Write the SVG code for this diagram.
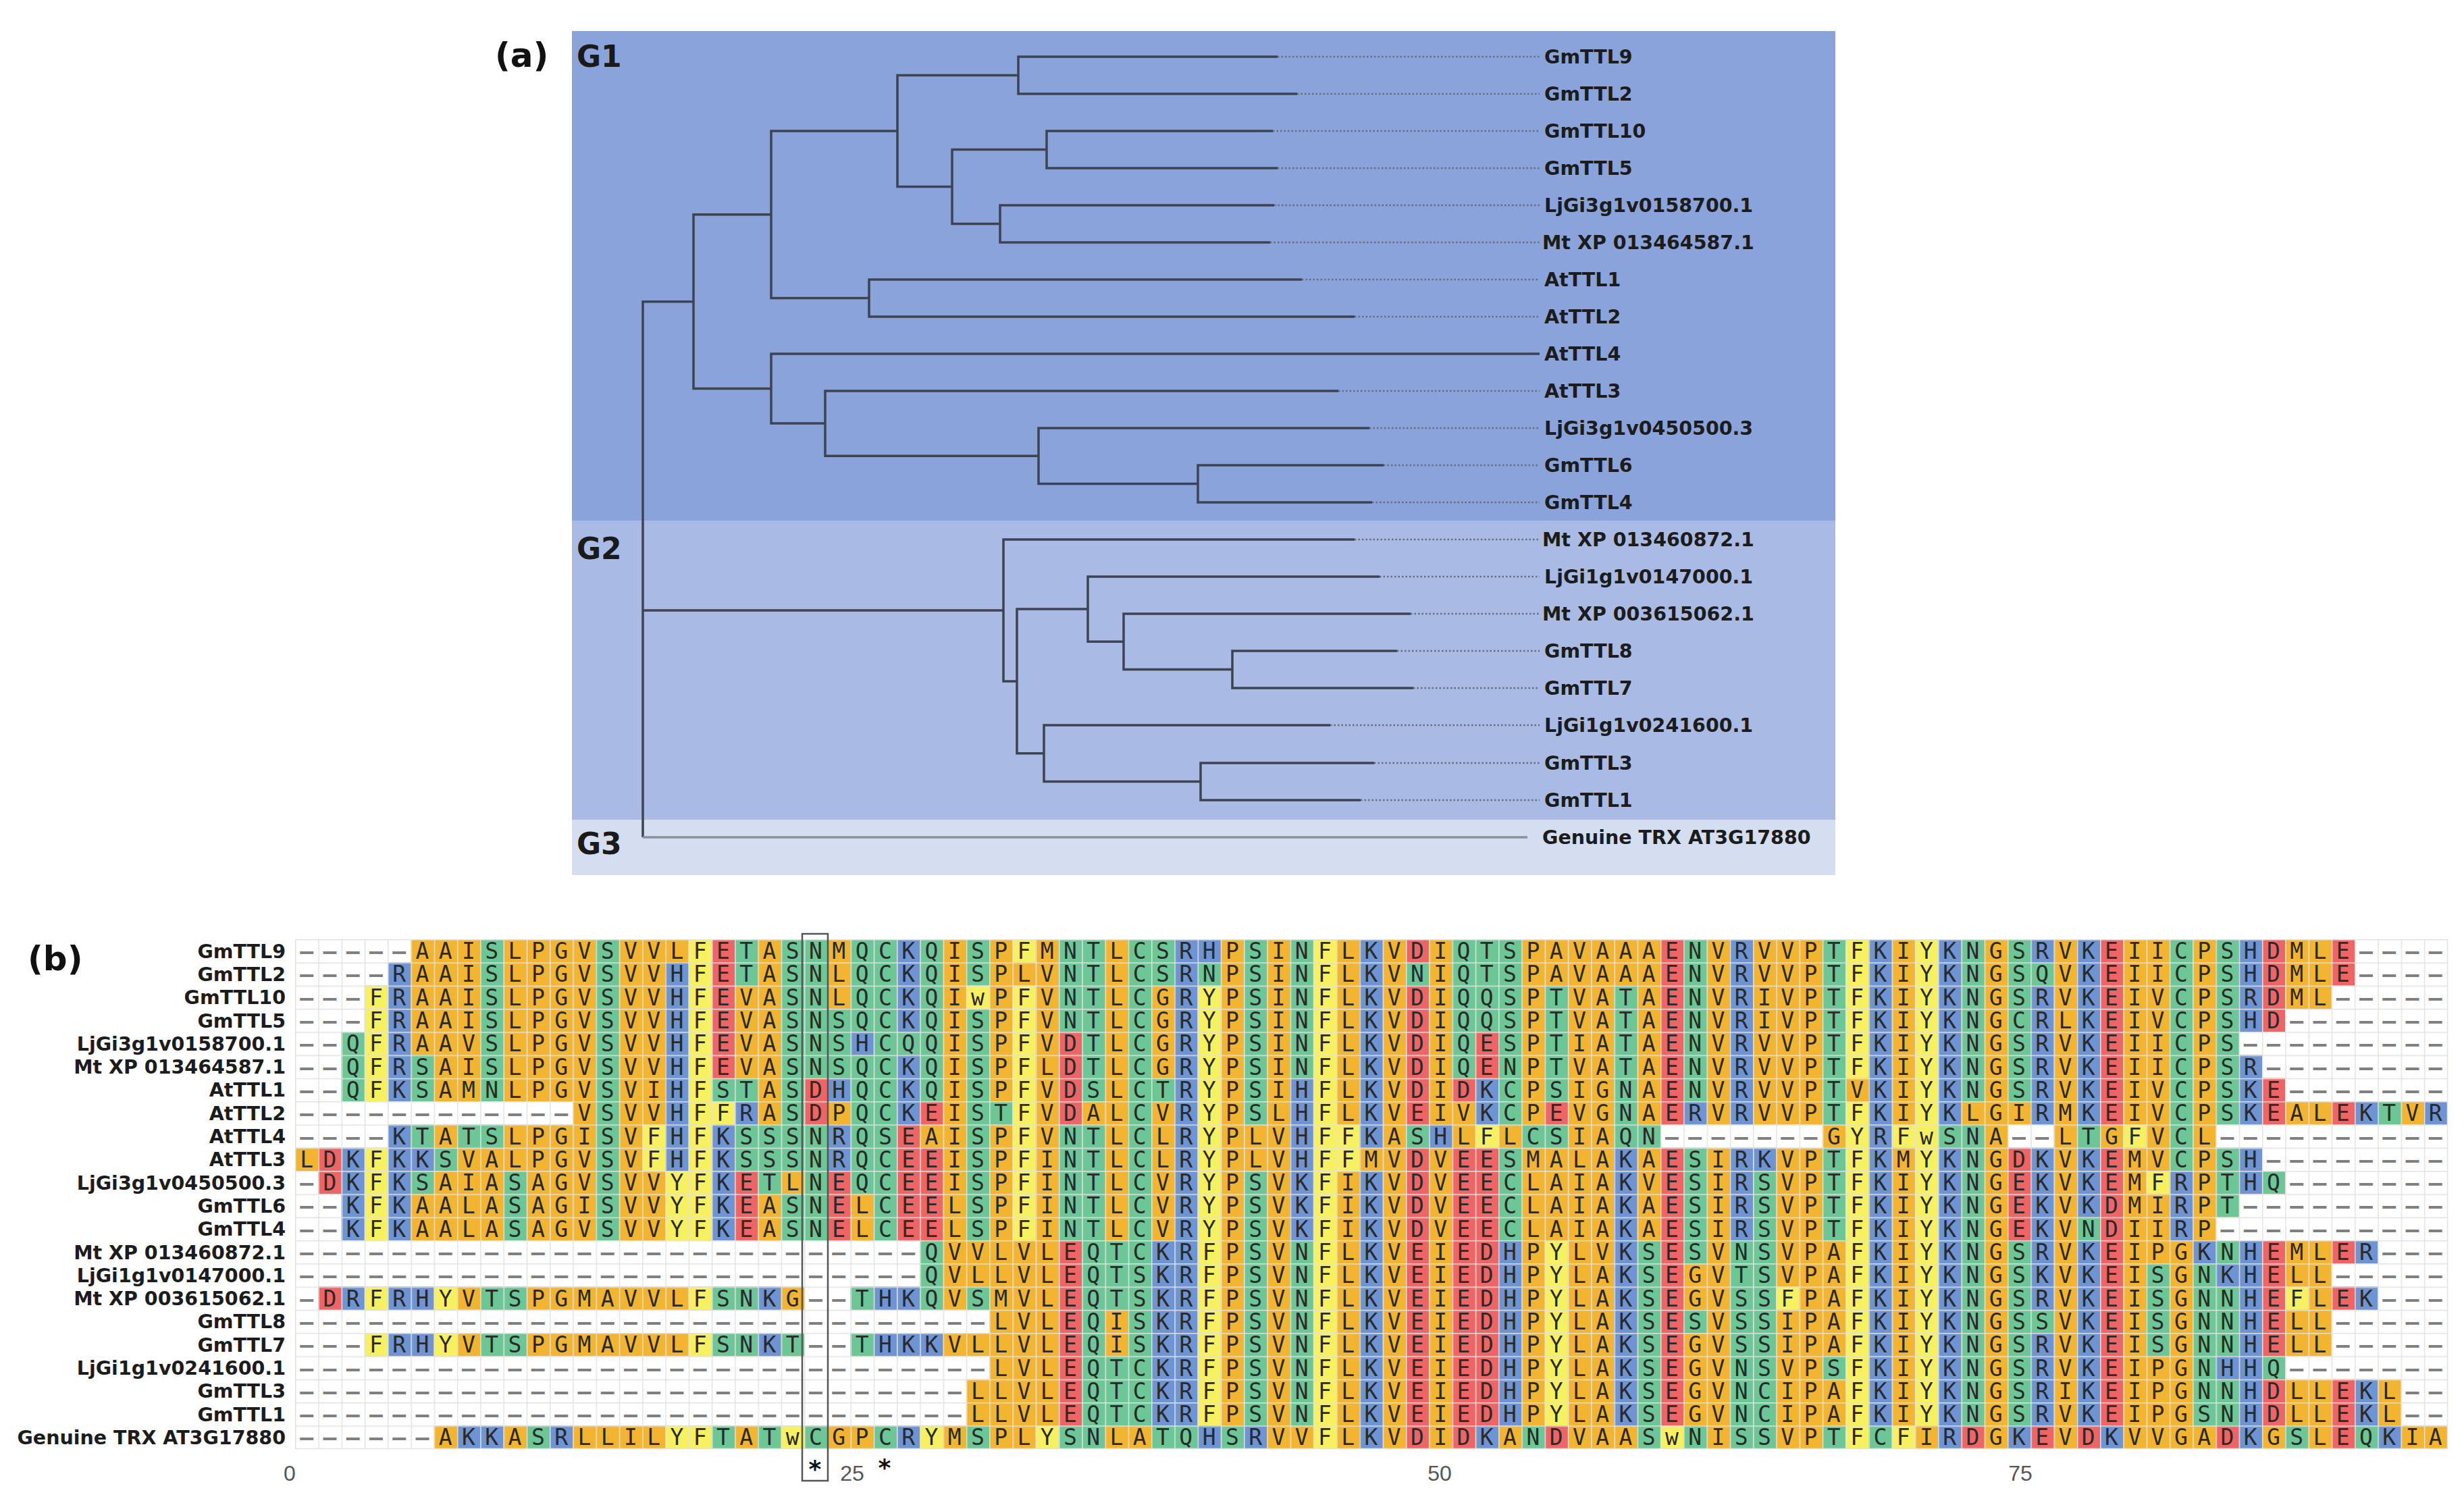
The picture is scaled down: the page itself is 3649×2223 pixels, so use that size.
<svg xmlns="http://www.w3.org/2000/svg" width="3649" height="2223" viewBox="0 0 3649 2223">
<style>
.t{font-family:"DejaVu Sans","Liberation Sans",sans-serif;font-weight:bold;font-size:28.5px;fill:#1c1c1c}
.e{text-anchor:end}
.big{font-family:"DejaVu Sans","Liberation Sans",sans-serif;font-weight:bold;font-size:50px;fill:#111}
.grp{font-family:"DejaVu Sans","Liberation Sans",sans-serif;font-weight:bold;font-size:44px;fill:#1a1a1a}
.s{font-family:"DejaVu Sans Mono","Liberation Mono",monospace;font-size:33px;letter-spacing:14.4px;fill:#2a2a2a}
.d{fill:#808080;font-weight:bold}
.ax{font-family:"Liberation Sans",sans-serif;font-size:32px;fill:#555;text-anchor:middle}
.br{fill:none;stroke:#3e4353;stroke-width:3.5}
.dot{fill:none;stroke:#666d7d;stroke-width:2.5;stroke-dasharray:2.5 3}
.ast{font-family:"DejaVu Sans",sans-serif;font-weight:bold;font-size:36px;fill:#111;text-anchor:middle}
</style>
<defs>
<pattern id="grid" x="437" y="1391" width="34.27" height="34.3" patternUnits="userSpaceOnUse">
<path d="M0 0.75H34.27M0.75 0V34.3" stroke="#e2e2e2" stroke-width="1.5" fill="none"/>
</pattern>
</defs>
<rect width="3649" height="2223" fill="#fff"/>

<g id="panel-a">
<text class="big" x="733" y="99">(a)</text>
<rect x="847" y="46" width="1871" height="725" fill="#8BA3DB"/>
<rect x="847" y="771" width="1871" height="443" fill="#A9BBE4"/>
<rect x="847" y="1214" width="1871" height="82" fill="#D5DDF1"/>
<text class="grp" x="854" y="99">G1</text>
<text class="grp" x="854" y="828">G2</text>
<text class="grp" x="854" y="1265">G3</text>
<g id="connectors">
<path class="dot" d="M1892 84H2280M1921 139H2280M1885 194H2280M1892 249H2280M1887 304H2280M1881 359H2280M1928 414H2280M2006 469H2280M1982 579H2280M2028 634H2280M2049 689H2280M2032 744H2280M2006 799H2280M2043 854H2280M2089 909H2280M2069 964H2280M2093 1019H2280M1970 1074H2280M2035 1130H2280M2015 1185H2280"/>
<path class="br" d="M1892 84H1508V139H1921M1885 194H1550V249H1892M1887 304H1481V359H1881M1550 221.5H1410V331.5H1481M1508 111.5H1329V276.5H1410M1928 414H1287V469H2006M1329 194H1142V441.5H1287M2049 689H1774V744H2032M2028 634H1538V716.5H1774M1982 579H1222V675.3H1538M2280 524H1142V627.1H1222M1142 317.8H1027V575.6H1142M1027 446.7H952V1240M952 904H1486M2069 964H1825V1019H2093M2089 909H1664V991.5H1825M2043 854H1611V950.3H1664M2035 1130H1778V1185H2015M1970 1074H1546V1157.5H1778M1611 902.1H1506V1115.8H1546M2006 799H1486V1008.9H1506"/>
<path d="M952 1240H2262" fill="none" stroke="#8a909e" stroke-width="3.5"/>
</g>
<g id="leaf-GmTTL9"><text class="t" x="2287" y="94.4">GmTTL9</text></g>
<g id="leaf-GmTTL2"><text class="t" x="2287" y="149.4">GmTTL2</text></g>
<g id="leaf-GmTTL10"><text class="t" x="2287" y="204.4">GmTTL10</text></g>
<g id="leaf-GmTTL5"><text class="t" x="2287" y="259.4">GmTTL5</text></g>
<g id="leaf-LjGi3g1v0158700"><text class="t" x="2287" y="314.4">LjGi3g1v0158700.1</text></g>
<g id="leaf-Mt013464587"><text class="t" x="2284" y="369.4">Mt XP 013464587.1</text></g>
<g id="leaf-AtTTL1"><text class="t" x="2287" y="424.4">AtTTL1</text></g>
<g id="leaf-AtTTL2"><text class="t" x="2287" y="479.4">AtTTL2</text></g>
<g id="leaf-AtTTL4"><text class="t" x="2287" y="534.4">AtTTL4</text></g>
<g id="leaf-AtTTL3"><text class="t" x="2287" y="589.4">AtTTL3</text></g>
<g id="leaf-LjGi3g1v0450500"><text class="t" x="2287" y="644.4">LjGi3g1v0450500.3</text></g>
<g id="leaf-GmTTL6"><text class="t" x="2287" y="699.4">GmTTL6</text></g>
<g id="leaf-GmTTL4"><text class="t" x="2287" y="754.4">GmTTL4</text></g>
<g id="leaf-Mt013460872"><text class="t" x="2284" y="809.4">Mt XP 013460872.1</text></g>
<g id="leaf-LjGi1g1v0147000"><text class="t" x="2287" y="864.4">LjGi1g1v0147000.1</text></g>
<g id="leaf-Mt003615062"><text class="t" x="2284" y="919.4">Mt XP 003615062.1</text></g>
<g id="leaf-GmTTL8"><text class="t" x="2287" y="974.4">GmTTL8</text></g>
<g id="leaf-GmTTL7"><text class="t" x="2287" y="1029.4">GmTTL7</text></g>
<g id="leaf-LjGi1g1v0241600"><text class="t" x="2287" y="1084.4">LjGi1g1v0241600.1</text></g>
<g id="leaf-GmTTL3"><text class="t" x="2287" y="1140.4">GmTTL3</text></g>
<g id="leaf-GmTTL1"><text class="t" x="2287" y="1195.4">GmTTL1</text></g>
<g id="leaf-TRX"><text class="t" x="2284" y="1250.4">Genuine TRX AT3G17880</text></g>
</g>

<g id="panel-b">
<text class="big" x="41" y="1437">(b)</text>
<g id="names">
<text class="t e" x="423" y="1418.6">GmTTL9</text>
<text class="t e" x="423" y="1452.9">GmTTL2</text>
<text class="t e" x="423" y="1487.2">GmTTL10</text>
<text class="t e" x="423" y="1521.5">GmTTL5</text>
<text class="t e" x="423" y="1555.8">LjGi3g1v0158700.1</text>
<text class="t e" x="423" y="1590.1">Mt XP 013464587.1</text>
<text class="t e" x="423" y="1624.4">AtTTL1</text>
<text class="t e" x="423" y="1658.7">AtTTL2</text>
<text class="t e" x="423" y="1693">AtTTL4</text>
<text class="t e" x="423" y="1727.3">AtTTL3</text>
<text class="t e" x="423" y="1761.6">LjGi3g1v0450500.3</text>
<text class="t e" x="423" y="1795.9">GmTTL6</text>
<text class="t e" x="423" y="1830.2">GmTTL4</text>
<text class="t e" x="423" y="1864.5">Mt XP 013460872.1</text>
<text class="t e" x="423" y="1898.8">LjGi1g1v0147000.1</text>
<text class="t e" x="423" y="1933.1">Mt XP 003615062.1</text>
<text class="t e" x="423" y="1967.4">GmTTL8</text>
<text class="t e" x="423" y="2001.7">GmTTL7</text>
<text class="t e" x="423" y="2036">LjGi1g1v0241600.1</text>
<text class="t e" x="423" y="2070.3">GmTTL3</text>
<text class="t e" x="423" y="2104.6">GmTTL1</text>
<text class="t e" x="423" y="2138.9">Genuine TRX AT3G17880</text>
</g>
<g id="cells" transform="translate(437 1391) scale(34.27 34.3)">
<rect width="93" height="22" fill="#F2B431"/>
<g fill="none" stroke-width="1">
<path stroke="#ffffff" d="M0 .5h5M89 .5h4M0 1.5h4M89 1.5h4M0 2.5h3M88 2.5h5M0 3.5h3M86 3.5h7M0 4.5h2M84 4.5h9M0 5.5h2M85 5.5h8M0 6.5h2M86 6.5h7M0 7.5h12M0 8.5h4M59 8.5h7M74 8.5h2M83 8.5h10M85 9.5h8M0 10.5h1M86 10.5h7M0 11.5h2M84 11.5h9M0 12.5h2M83 12.5h10M0 13.5h27M90 13.5h3M0 14.5h27M88 14.5h5M0 15.5h1M22 15.5h2M90 15.5h3M0 16.5h30M88 16.5h5M0 17.5h3M22 17.5h2M88 17.5h5M0 18.5h30M86 18.5h7M0 19.5h29M91 19.5h2M0 20.5h29M91 20.5h2M0 21.5h6"/>
<path stroke="#6CC695" d="M8 .5h1M13 .5h1M19 .5h1M21 .5h2M24 .5h2M27 .5h1M29 .5h1M33 .5h2M36 .5h2M41 .5h1M43 .5h1M50 .5h3M60 .5h1M66 .5h1M72 .5h1M74 .5h1M81 .5h1M83 .5h1
M8 1.5h1M13 1.5h1M19 1.5h1M21 1.5h2M24 1.5h2M27 1.5h1M29 1.5h1M33 1.5h2M36 1.5h2M39 1.5h1M41 1.5h1M43 1.5h1M48 1.5h1M50 1.5h3M60 1.5h1M66 1.5h1M72 1.5h1M74 1.5h2M81 1.5h1M83 1.5h1
M8 2.5h1M13 2.5h1M21 2.5h2M24 2.5h2M27 2.5h1M33 2.5h2M36 2.5h1M41 2.5h1M43 2.5h1M50 2.5h3M54 2.5h1M57 2.5h1M60 2.5h1M66 2.5h1M72 2.5h1M74 2.5h1M81 2.5h1M83 2.5h1
M8 3.5h1M13 3.5h1M21 3.5h5M27 3.5h1M29 3.5h1M33 3.5h2M36 3.5h1M41 3.5h1M43 3.5h1M50 3.5h3M54 3.5h1M57 3.5h1M60 3.5h1M66 3.5h1M72 3.5h1M74 3.5h1M81 3.5h1M83 3.5h1
M2 4.5h1M8 4.5h1M13 4.5h1M21 4.5h3M25 4.5h3M29 4.5h1M34 4.5h1M36 4.5h1M41 4.5h1M43 4.5h1M50 4.5h1M52 4.5h1M54 4.5h1M57 4.5h1M60 4.5h1M66 4.5h1M72 4.5h1M74 4.5h1M81 4.5h1M83 4.5h1
M2 5.5h1M5 5.5h1M8 5.5h1M13 5.5h1M21 5.5h5M27 5.5h1M29 5.5h1M34 5.5h1M36 5.5h1M41 5.5h1M43 5.5h1M50 5.5h1M52 5.5h1M54 5.5h1M57 5.5h1M60 5.5h1M66 5.5h1M72 5.5h1M74 5.5h1M81 5.5h1M83 5.5h1
M2 6.5h1M5 6.5h1M8 6.5h1M13 6.5h1M18 6.5h2M21 6.5h1M24 6.5h2M27 6.5h1M29 6.5h1M34 6.5h1M36 6.5h2M41 6.5h1M52 6.5h1M54 6.5h1M57 6.5h1M60 6.5h1M66 6.5h1M72 6.5h1M74 6.5h1M81 6.5h1M83 6.5h1
M13 7.5h1M21 7.5h1M24 7.5h2M29 7.5h2M36 7.5h1M41 7.5h1M52 7.5h1M57 7.5h1M66 7.5h1M81 7.5h1M83 7.5h1M90 7.5h1
M5 8.5h1M7 8.5h2M13 8.5h1M19 8.5h4M24 8.5h2M29 8.5h1M33 8.5h2M36 8.5h1M48 8.5h1M53 8.5h2M57 8.5h2M71 8.5h2M77 8.5h1M81 8.5h1
M6 9.5h1M13 9.5h1M19 9.5h4M24 9.5h2M29 9.5h1M33 9.5h2M36 9.5h1M52 9.5h1M60 9.5h1M66 9.5h1M72 9.5h1M81 9.5h1M83 9.5h1
M5 10.5h1M9 10.5h1M13 10.5h1M20 10.5h1M22 10.5h1M24 10.5h2M29 10.5h1M33 10.5h2M36 10.5h1M41 10.5h1M52 10.5h1M60 10.5h1M63 10.5h1M66 10.5h1M72 10.5h1M83 10.5h1M85 10.5h1
M9 11.5h1M13 11.5h1M21 11.5h2M25 11.5h1M29 11.5h1M33 11.5h2M36 11.5h1M41 11.5h1M52 11.5h1M60 11.5h1M63 11.5h1M66 11.5h1M72 11.5h1M83 11.5h1
M9 12.5h1M13 12.5h1M21 12.5h2M25 12.5h1M29 12.5h1M33 12.5h2M36 12.5h1M41 12.5h1M52 12.5h1M60 12.5h1M63 12.5h1M66 12.5h1M72 12.5h1M77 12.5h1
M27 13.5h1M34 13.5h3M41 13.5h1M43 13.5h1M58 13.5h1M60 13.5h1M62 13.5h2M72 13.5h1M74 13.5h1M83 13.5h1
M27 14.5h1M34 14.5h3M41 14.5h1M43 14.5h1M58 14.5h1M62 14.5h2M72 14.5h1M74 14.5h1M80 14.5h1M82 14.5h1
M8 15.5h2M18 15.5h2M24 15.5h1M27 15.5h1M29 15.5h1M34 15.5h3M41 15.5h1M43 15.5h1M58 15.5h1M62 15.5h2M72 15.5h1M74 15.5h1M80 15.5h1M82 15.5h2
M34 16.5h1M36 16.5h1M41 16.5h1M43 16.5h1M58 16.5h1M60 16.5h1M62 16.5h2M72 16.5h1M74 16.5h2M80 16.5h1M82 16.5h2
M8 17.5h2M18 17.5h2M21 17.5h1M24 17.5h1M34 17.5h1M36 17.5h1M41 17.5h1M43 17.5h1M58 17.5h1M62 17.5h2M72 17.5h1M74 17.5h1M80 17.5h1M82 17.5h2
M34 18.5h3M41 18.5h1M43 18.5h1M58 18.5h1M62 18.5h2M66 18.5h1M72 18.5h1M74 18.5h1M82 18.5h1M85 18.5h1
M34 19.5h3M41 19.5h1M43 19.5h1M58 19.5h1M62 19.5h2M72 19.5h1M74 19.5h1M82 19.5h2
M34 20.5h3M41 20.5h1M43 20.5h1M58 20.5h1M62 20.5h2M72 20.5h1M74 20.5h1M82 20.5h2
M10 21.5h1M18 21.5h1M20 21.5h1M22 21.5h1M25 21.5h1M29 21.5h1M33 21.5h2M37 21.5h2M40 21.5h1M53 21.5h1M58 21.5h1M60 21.5h1M62 21.5h2M66 21.5h1M68 21.5h1M86 21.5h1M89 21.5h1"/>
<path stroke="#6E94D3" d="M26 .5h1M38 .5h2M46 .5h1M62 .5h1M68 .5h1M71 .5h1M75 .5h1M77 .5h1M84 .5h1
M4 1.5h1M16 1.5h1M26 1.5h1M38 1.5h1M46 1.5h1M62 1.5h1M68 1.5h1M71 1.5h1M77 1.5h1M84 1.5h1
M4 2.5h1M16 2.5h1M26 2.5h1M38 2.5h1M46 2.5h1M62 2.5h1M68 2.5h1M71 2.5h1M75 2.5h1M77 2.5h1M84 2.5h1
M4 3.5h1M16 3.5h1M26 3.5h1M38 3.5h1M46 3.5h1M62 3.5h1M68 3.5h1M71 3.5h1M75 3.5h1M77 3.5h1M84 3.5h1
M4 4.5h1M16 4.5h1M24 4.5h1M38 4.5h1M46 4.5h1M62 4.5h1M68 4.5h1M71 4.5h1M75 4.5h1M77 4.5h1
M4 5.5h1M16 5.5h1M26 5.5h1M38 5.5h1M46 5.5h1M62 5.5h1M68 5.5h1M71 5.5h1M75 5.5h1M77 5.5h1M84 5.5h1
M4 6.5h1M16 6.5h1M23 6.5h1M26 6.5h1M38 6.5h1M43 6.5h1M46 6.5h1M51 6.5h1M62 6.5h1M68 6.5h1M71 6.5h1M75 6.5h1M77 6.5h1M84 6.5h1
M16 7.5h1M19 7.5h1M26 7.5h1M38 7.5h1M43 7.5h1M46 7.5h1M51 7.5h1M60 7.5h1M62 7.5h1M68 7.5h1M71 7.5h1M75 7.5h1M77 7.5h1M84 7.5h1M89 7.5h1M92 7.5h1
M4 8.5h1M16 8.5h1M18 8.5h1M23 8.5h1M38 8.5h1M43 8.5h1M46 8.5h1M49 8.5h1M68 8.5h1
M2 9.5h1M4 9.5h2M16 9.5h1M18 9.5h1M23 9.5h1M38 9.5h1M43 9.5h1M57 9.5h1M62 9.5h2M68 9.5h1M71 9.5h1M75 9.5h1M77 9.5h1M84 9.5h1
M2 10.5h1M4 10.5h1M18 10.5h1M38 10.5h1M43 10.5h1M46 10.5h1M57 10.5h1M62 10.5h1M68 10.5h1M71 10.5h1M75 10.5h1M77 10.5h1M81 10.5h1M84 10.5h1
M2 11.5h1M4 11.5h1M18 11.5h1M38 11.5h1M43 11.5h1M46 11.5h1M57 11.5h1M62 11.5h1M68 11.5h1M71 11.5h1M75 11.5h1M77 11.5h1M81 11.5h1
M2 12.5h1M4 12.5h1M18 12.5h1M38 12.5h1M43 12.5h1M46 12.5h1M57 12.5h1M62 12.5h1M68 12.5h1M71 12.5h1M75 12.5h1M81 12.5h1
M37 13.5h2M46 13.5h1M52 13.5h1M57 13.5h1M68 13.5h1M71 13.5h1M75 13.5h1M77 13.5h1M82 13.5h1M84 13.5h1M89 13.5h1
M37 14.5h2M46 14.5h1M52 14.5h1M57 14.5h1M68 14.5h1M71 14.5h1M75 14.5h1M77 14.5h1M83 14.5h2
M2 15.5h1M4 15.5h2M20 15.5h1M25 15.5h2M37 15.5h2M46 15.5h1M52 15.5h1M57 15.5h1M68 15.5h1M71 15.5h1M75 15.5h1M77 15.5h1M84 15.5h1M89 15.5h1
M37 16.5h2M46 16.5h1M52 16.5h1M57 16.5h1M68 16.5h1M71 16.5h1M77 16.5h1M84 16.5h1
M4 17.5h2M20 17.5h1M25 17.5h3M37 17.5h2M46 17.5h1M52 17.5h1M57 17.5h1M68 17.5h1M71 17.5h1M75 17.5h1M77 17.5h1M84 17.5h1
M37 18.5h2M46 18.5h1M52 18.5h1M57 18.5h1M68 18.5h1M71 18.5h1M75 18.5h1M77 18.5h1M83 18.5h2
M37 19.5h2M46 19.5h1M52 19.5h1M57 19.5h1M68 19.5h1M71 19.5h1M75 19.5h1M77 19.5h1M84 19.5h1M89 19.5h1
M37 20.5h2M46 20.5h1M52 20.5h1M57 20.5h1M68 20.5h1M71 20.5h1M75 20.5h1M77 20.5h1M84 20.5h1M89 20.5h1
M7 21.5h2M11 21.5h1M26 21.5h1M39 21.5h1M41 21.5h1M46 21.5h1M51 21.5h1M71 21.5h1M74 21.5h1M78 21.5h1M84 21.5h1M90 21.5h1"/>
<path stroke="#EF6565" d="M18 .5h1M48 .5h1M59 .5h1M78 .5h1M85 .5h1M88 .5h1
M18 1.5h1M59 1.5h1M78 1.5h1M85 1.5h1M88 1.5h1
M18 2.5h1M48 2.5h1M59 2.5h1M78 2.5h1M85 2.5h1
M18 3.5h1M48 3.5h1M59 3.5h1M78 3.5h1M85 3.5h1
M18 4.5h1M33 4.5h1M48 4.5h1M51 4.5h1M59 4.5h1M78 4.5h1
M18 5.5h1M33 5.5h1M48 5.5h1M51 5.5h1M59 5.5h1M78 5.5h1
M22 6.5h1M33 6.5h1M48 6.5h1M50 6.5h1M59 6.5h1M78 6.5h1M85 6.5h1
M22 7.5h1M27 7.5h1M33 7.5h1M48 7.5h1M54 7.5h1M59 7.5h1M78 7.5h1M85 7.5h1M88 7.5h1
M26 8.5h1
M1 9.5h1M26 9.5h2M48 9.5h1M50 9.5h2M59 9.5h1M74 9.5h1M78 9.5h1
M1 10.5h1M19 10.5h1M23 10.5h1M26 10.5h2M48 10.5h1M50 10.5h2M59 10.5h1M74 10.5h1M78 10.5h1
M19 11.5h1M23 11.5h1M26 11.5h2M48 11.5h1M50 11.5h2M59 11.5h1M74 11.5h1M78 11.5h1
M19 12.5h1M23 12.5h1M26 12.5h2M48 12.5h1M50 12.5h2M59 12.5h1M74 12.5h1M78 12.5h1
M33 13.5h1M48 13.5h1M50 13.5h2M59 13.5h1M78 13.5h1M85 13.5h1M88 13.5h1
M33 14.5h1M48 14.5h1M50 14.5h2M59 14.5h1M78 14.5h1M85 14.5h1
M1 15.5h1M33 15.5h1M48 15.5h1M50 15.5h2M59 15.5h1M78 15.5h1M85 15.5h1M88 15.5h1
M33 16.5h1M48 16.5h1M50 16.5h2M59 16.5h1M78 16.5h1M85 16.5h1
M33 17.5h1M48 17.5h1M50 17.5h2M59 17.5h1M78 17.5h1M85 17.5h1
M33 18.5h1M48 18.5h1M50 18.5h2M59 18.5h1M78 18.5h1
M33 19.5h1M48 19.5h1M50 19.5h2M59 19.5h1M78 19.5h1M85 19.5h1M88 19.5h1
M33 20.5h1M48 20.5h1M50 20.5h2M59 20.5h1M78 20.5h1M85 20.5h1M88 20.5h1
M48 21.5h1M50 21.5h1M54 21.5h1M72 21.5h1M75 21.5h1M77 21.5h1M83 21.5h1M88 21.5h1"/>
<path stroke="#F7F060" d="M17 .5h1M31 .5h1M44 .5h1M67 .5h1M70 .5h1
M17 1.5h1M44 1.5h1M67 1.5h1M70 1.5h1
M3 2.5h1M17 2.5h1M29 2.5h1M31 2.5h1M39 2.5h1M44 2.5h1M67 2.5h1M70 2.5h1
M3 3.5h1M17 3.5h1M31 3.5h1M39 3.5h1M44 3.5h1M67 3.5h1M70 3.5h1
M3 4.5h1M17 4.5h1M31 4.5h1M39 4.5h1M44 4.5h1M67 4.5h1M70 4.5h1
M3 5.5h1M17 5.5h1M31 5.5h1M39 5.5h1M44 5.5h1M67 5.5h1M70 5.5h1
M3 6.5h1M17 6.5h1M31 6.5h1M39 6.5h1M44 6.5h1M70 6.5h1
M17 7.5h2M31 7.5h1M39 7.5h1M44 7.5h1M67 7.5h1M70 7.5h1
M15 8.5h1M17 8.5h1M31 8.5h1M39 8.5h1M44 8.5h2M51 8.5h1M67 8.5h1M69 8.5h2M79 8.5h1
M3 9.5h1M15 9.5h1M17 9.5h1M31 9.5h1M39 9.5h1M44 9.5h2M67 9.5h1M70 9.5h1
M3 10.5h1M16 10.5h2M31 10.5h1M39 10.5h1M44 10.5h1M67 10.5h1M70 10.5h1M80 10.5h1
M3 11.5h1M16 11.5h2M31 11.5h1M39 11.5h1M44 11.5h1M67 11.5h1M70 11.5h1
M3 12.5h1M16 12.5h2M31 12.5h1M39 12.5h1M44 12.5h1M67 12.5h1M70 12.5h1
M39 13.5h1M44 13.5h1M54 13.5h1M67 13.5h1M70 13.5h1
M39 14.5h1M44 14.5h1M54 14.5h1M67 14.5h1M70 14.5h1
M3 15.5h1M6 15.5h1M17 15.5h1M39 15.5h1M44 15.5h1M54 15.5h1M64 15.5h1M67 15.5h1M70 15.5h1M86 15.5h1
M39 16.5h1M44 16.5h1M54 16.5h1M67 16.5h1M70 16.5h1
M3 17.5h1M6 17.5h1M17 17.5h1M39 17.5h1M44 17.5h1M54 17.5h1M67 17.5h1M70 17.5h1
M39 18.5h1M44 18.5h1M54 18.5h1M67 18.5h1M70 18.5h1
M39 19.5h1M44 19.5h1M54 19.5h1M67 19.5h1M70 19.5h1
M39 20.5h1M44 20.5h1M54 20.5h1M67 20.5h1M70 20.5h1
M16 21.5h2M21 21.5h1M27 21.5h1M32 21.5h1M44 21.5h1M59 21.5h1M67 21.5h1M69 21.5h1"/>
</g>
</g>
<rect x="437" y="1391" width="3188" height="755" fill="url(#grid)"/>
<path d="M3624.5 1391V2146M437 2145.5H3625" stroke="#e2e2e2" stroke-width="1.5" fill="none"/>
<g id="sequences" class="s" transform="translate(-0.6 0.7)">
<text x="444.8" y="1419.5"><tspan class="d">–––––</tspan>AAISLPGVSVVLFETASNMQCKQISPFMNTLCSRHPSINFLKVDIQTSPAVAAAENVRVVPTFKIYKNGSRVKEIICPSHDMLE<tspan class="d">––––</tspan></text>
<text x="444.8" y="1453.8"><tspan class="d">––––</tspan>RAAISLPGVSVVHFETASNLQCKQISPLVNTLCSRNPSINFLKVNIQTSPAVAAAENVRVVPTFKIYKNGSQVKEIICPSHDMLE<tspan class="d">––––</tspan></text>
<text x="444.8" y="1488.1"><tspan class="d">–––</tspan>FRAAISLPGVSVVHFEVASNLQCKQIwPFVNTLCGRYPSINFLKVDIQQSPTVATAENVRIVPTFKIYKNGSRVKEIVCPSRDML<tspan class="d">–––––</tspan></text>
<text x="444.8" y="1522.4"><tspan class="d">–––</tspan>FRAAISLPGVSVVHFEVASNSQCKQISPFVNTLCGRYPSINFLKVDIQQSPTVATAENVRIVPTFKIYKNGCRLKEIVCPSHD<tspan class="d">–––––––</tspan></text>
<text x="444.8" y="1556.7"><tspan class="d">––</tspan>QFRAAVSLPGVSVVHFEVASNSHCQQISPFVDTLCGRYPSINFLKVDIQESPTIATAENVRVVPTFKIYKNGSRVKEIICPS<tspan class="d">–––––––––</tspan></text>
<text x="444.8" y="1591"><tspan class="d">––</tspan>QFRSAISLPGVSVVHFEVASNSQCKQISPFLDTLCGRYPSINFLKVDIQENPTVATAENVRVVPTFKIYKNGSRVKEIICPSR<tspan class="d">––––––––</tspan></text>
<text x="444.8" y="1625.3"><tspan class="d">––</tspan>QFKSAMNLPGVSVIHFSTASDHQCKQISPFVDSLCTRYPSIHFLKVDIDKCPSIGNAENVRVVPTVKIYKNGSRVKEIVCPSKE<tspan class="d">–––––––</tspan></text>
<text x="444.8" y="1659.6"><tspan class="d">––––––––––––</tspan>VSVVHFFRASDPQCKEISTFVDALCVRYPSLHFLKVEIVKCPEVGNAERVRVVPTFKIYKLGIRMKEIVCPSKEALEKTVR</text>
<text x="444.8" y="1693.9"><tspan class="d">––––</tspan>KTATSLPGISVFHFKSSSNRQSEAISPFVNTLCLRYPLVHFFKASHLFLCSIAQN<tspan class="d">–––––––</tspan>GYRFwSNA<tspan class="d">––</tspan>LTGFVCL<tspan class="d">––––––––––</tspan></text>
<text x="444.8" y="1728.2">LDKFKKSVALPGVSVFHFKSSSNRQCEEISPFINTLCLRYPLVHFFMVDVEESMALAKAESIRKVPTFKMYKNGDKVKEMVCPSH<tspan class="d">––––––––</tspan></text>
<text x="444.8" y="1762.5"><tspan class="d">–</tspan>DKFKSAIASAGVSVVYFKETLNEQCEEISPFINTLCVRYPSVKFIKVDVEECLAIAKVESIRSVPTFKIYKNGEKVKEMFRPTHQ<tspan class="d">–––––––</tspan></text>
<text x="444.8" y="1796.8"><tspan class="d">––</tspan>KFKAALASAGISVVYFKEASNELCEELSPFINTLCVRYPSVKFIKVDVEECLAIAKAESIRSVPTFKIYKNGEKVKDMIRPT<tspan class="d">–––––––––</tspan></text>
<text x="444.8" y="1831.1"><tspan class="d">––</tspan>KFKAALASAGVSVVYFKEASNELCEELSPFINTLCVRYPSVKFIKVDVEECLAIAKAESIRSVPTFKIYKNGEKVNDIIRP<tspan class="d">––––––––––</tspan></text>
<text x="444.8" y="1865.4"><tspan class="d">–––––––––––––––––––––––––––</tspan>QVVLVLEQTCKRFPSVNFLKVEIEDHPYLVKSESVNSVPAFKIYKNGSRVKEIPGKNHEMLER<tspan class="d">–––</tspan></text>
<text x="444.8" y="1899.7"><tspan class="d">–––––––––––––––––––––––––––</tspan>QVLLVLEQTSKRFPSVNFLKVEIEDHPYLAKSEGVTSVPAFKIYKNGSKVKEISGNKHELL<tspan class="d">–––––</tspan></text>
<text x="444.8" y="1934"><tspan class="d">–</tspan>DRFRHYVTSPGMAVVLFSNKG<tspan class="d">––</tspan>THKQVSMVLEQTSKRFPSVNFLKVEIEDHPYLAKSEGVSSFPAFKIYKNGSRVKEISGNNHEFLEK<tspan class="d">–––</tspan></text>
<text x="444.8" y="1968.3"><tspan class="d">––––––––––––––––––––––––––––––</tspan>LVLEQISKRFPSVNFLKVEIEDHPYLAKSESVSSIPAFKIYKNGSSVKEISGNNHELL<tspan class="d">–––––</tspan></text>
<text x="444.8" y="2002.6"><tspan class="d">–––</tspan>FRHYVTSPGMAVVLFSNKT<tspan class="d">––</tspan>THKKVLLVLEQISKRFPSVNFLKVEIEDHPYLAKSEGVSSIPAFKIYKNGSRVKEISGNNHELL<tspan class="d">–––––</tspan></text>
<text x="444.8" y="2036.9"><tspan class="d">––––––––––––––––––––––––––––––</tspan>LVLEQTCKRFPSVNFLKVEIEDHPYLAKSEGVNSVPSFKIYKNGSRVKEIPGNHHQ<tspan class="d">–––––––</tspan></text>
<text x="444.8" y="2071.2"><tspan class="d">–––––––––––––––––––––––––––––</tspan>LLVLEQTCKRFPSVNFLKVEIEDHPYLAKSEGVNCIPAFKIYKNGSRIKEIPGNNHDLLEKL<tspan class="d">––</tspan></text>
<text x="444.8" y="2105.5"><tspan class="d">–––––––––––––––––––––––––––––</tspan>LLVLEQTCKRFPSVNFLKVEIEDHPYLAKSEGVNCIPAFKIYKNGSRVKEIPGSNHDLLEKL<tspan class="d">––</tspan></text>
<text x="444.8" y="2139.8"><tspan class="d">––––––</tspan>AKKASRLLILYFTATwCGPCRYMSPLYSNLATQHSRVVFLKVDIDKANDVAASwNISSVPTFCFIRDGKEVDKVVGADKGSLEQKIA</text>
</g>
<rect id="site-box" x="1188" y="1383" width="38" height="810" fill="none" stroke="#555" stroke-width="2.5"/>
<text class="ast" x="1207" y="2188">*</text>
<text class="ast" x="1310" y="2186">*</text>
<g id="axis">
<text class="ax" x="429" y="2193">0</text>
<text class="ax" x="1262" y="2193">25</text>
<text class="ax" x="2132" y="2193">50</text>
<text class="ax" x="2992" y="2193">75</text>
</g>
</g>
</svg>
